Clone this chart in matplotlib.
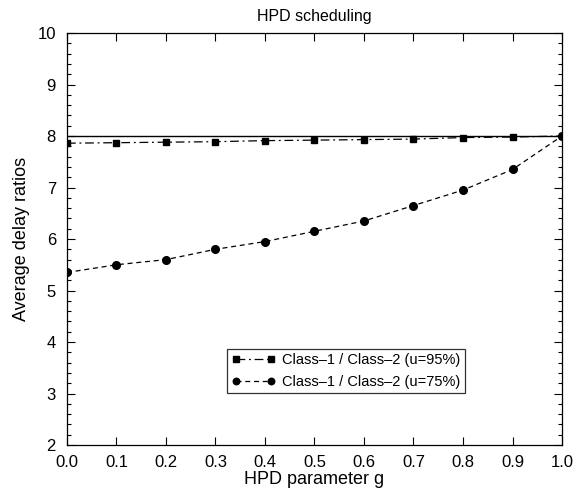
import matplotlib
matplotlib.use('Agg')
import matplotlib.pyplot as plt
from matplotlib.ticker import MultipleLocator

plt.rcParams['font.family'] = ['Liberation Sans', 'DejaVu Sans']

g = [0.0, 0.1, 0.2, 0.3, 0.4, 0.5, 0.6, 0.7, 0.8, 0.9, 1.0]
ratio_u95 = [7.86, 7.87, 7.88, 7.89, 7.91, 7.92, 7.93, 7.94, 7.97, 7.98, 8.0]
ratio_u75 = [5.35, 5.5, 5.6, 5.8, 5.95, 6.15, 6.35, 6.65, 6.95, 7.35, 8.0]
reference = 8.0

fig = plt.figure(figsize=(5.76, 5.0), dpi=100)
ax = fig.add_axes([0.1163, 0.11, 0.8594, 0.824])

ax.axhline(reference, color='black', lw=1.0)
ax.plot(g, ratio_u95, color='black', ls=(0, (7, 3, 1.5, 3)), lw=0.9,
        marker='s', ms=5, label='Class\u20131 / Class\u20132 (u=95%)')
ax.plot(g, ratio_u75, color='black', ls=(0, (4, 3)), lw=0.9,
        marker='o', ms=5.5, label='Class\u20131 / Class\u20132 (u=75%)')

ax.set_xlim(0, 1)
ax.set_ylim(2, 10)
ax.xaxis.set_major_locator(MultipleLocator(0.1))
ax.yaxis.set_major_locator(MultipleLocator(1))
ax.yaxis.set_minor_locator(MultipleLocator(0.2))
ax.tick_params(which='both', direction='in', top=True, right=True, labelsize=12)
ax.tick_params(which='major', length=6, width=0.8)
ax.tick_params(which='minor', length=3, width=0.8)
ax.tick_params(axis='x', pad=7)
ax.tick_params(axis='y', pad=8)
ax.xaxis.set_major_formatter(plt.FormatStrFormatter('%.1f'))
for s in ax.spines.values():
    s.set_linewidth(0.9)

ax.set_title('HPD scheduling', fontsize=11.5, pad=9)
ax.set_xlabel('HPD parameter g', fontsize=13, labelpad=1)
ax.set_ylabel('Average delay ratios', fontsize=13, labelpad=5)

leg = ax.legend(loc='lower left', bbox_to_anchor=(0.323, 0.126), numpoints=2,
                fontsize=10.5, frameon=True, fancybox=False, edgecolor='black',
                handlelength=3.0, handletextpad=0.5, borderpad=0.3,
                labelspacing=0.5, markerscale=0.85, borderaxespad=0)
leg.get_frame().set_linewidth(0.9)

fig.savefig('out.png', dpi=100)
